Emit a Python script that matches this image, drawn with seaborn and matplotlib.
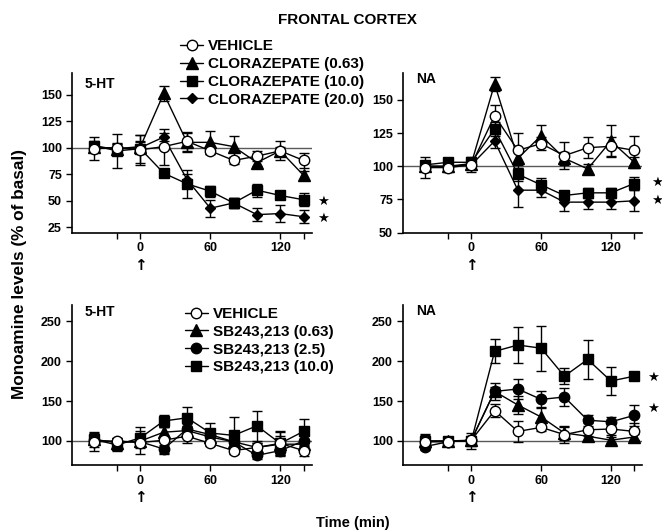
import matplotlib
matplotlib.use("Agg")
import matplotlib.pyplot as plt
import matplotlib.transforms as mtransforms
from matplotlib.lines import Line2D
import seaborn as sns
import numpy as np

# sampling times (min), drug given at t = 0
time = [-40, -20, 0, 20, 40, 60, 80, 100, 120, 140]

# frontal cortex 5-HT, clorazepate study
veh_5ht = [99, 100, 98, 101, 106, 97, 88, 92, 97, 88]
veh_5ht_err = [11, 4, 14, 17, 9, 3, 3, 5, 9, 7]
cz063_5ht = [101, 99, 101, 151, 105, 105, 101, 86, 97, 74]
cz063_5ht_err = [3, 4, 5, 7, 9, 11, 10, 3, 4, 4]
cz10_5ht = [102, 97, 99, 76, 66, 59, 48, 60, 55, 51]
cz10_5ht_err = [4, 16, 13, 3, 13, 5, 5, 6, 3, 6]
cz20_5ht = [101, 99, 100, 110, 70, 43, 48, 37, 38, 35]
cz20_5ht_err = [3, 4, 5, 4, 5, 8, 5, 6, 8, 6]

# frontal cortex NA, clorazepate study
veh_na = [99, 99, 101, 138, 112, 117, 108, 114, 115, 112]
veh_na_err = [8, 3, 5, 8, 13, 5, 10, 8, 7, 11]
cz063_na = [100, 100, 102, 162, 106, 123, 106, 98, 119, 103]
cz063_na_err = [3, 3, 4, 5, 5, 8, 5, 4, 12, 4]
cz10_na = [101, 103, 103, 128, 94, 86, 78, 80, 80, 87]
cz10_na_err = [3, 3, 4, 5, 5, 5, 3, 4, 4, 5]
cz20_na = [100, 100, 101, 119, 82, 82, 73, 73, 73, 74]
cz20_na_err = [3, 3, 3, 5, 13, 5, 7, 5, 5, 8]

# frontal cortex 5-HT, SB243,213 study
sb063_5ht = [102, 98, 100, 111, 113, 105, 99, 92, 96, 96]
sb063_5ht_err = [6, 5, 6, 6, 6, 6, 6, 6, 15, 6]
sb25_5ht = [101, 99, 99, 90, 115, 108, 99, 82, 88, 100]
sb25_5ht_err = [5, 5, 5, 5, 6, 6, 6, 5, 6, 6]
sb10_5ht = [102, 95, 104, 125, 129, 110, 107, 119, 97, 112]
sb10_5ht_err = [9, 8, 13, 8, 14, 12, 23, 19, 15, 15]

# frontal cortex NA, SB243,213 study
sb063_na = [100, 100, 101, 162, 145, 130, 110, 106, 101, 105]
sb063_na_err = [4, 4, 4, 5, 11, 13, 9, 5, 4, 4]
sb25_na = [93, 99, 101, 162, 165, 152, 155, 126, 124, 132]
sb25_na_err = [4, 4, 4, 11, 12, 11, 11, 7, 6, 13]
sb10_na = [100, 100, 100, 212, 220, 216, 181, 202, 175, 181]
sb10_na_err = [9, 5, 10, 15, 23, 28, 10, 24, 17, 5]

cz_labels = ["VEHICLE", "CLORAZEPATE (0.63)", "CLORAZEPATE (10.0)", "CLORAZEPATE (20.0)"]
sb_labels = ["VEHICLE", "SB243,213 (0.63)", "SB243,213 (2.5)", "SB243,213 (10.0)"]

# marker, face colour, size
STY = {
    "veh": ("o", "white", 7.5),
    "tri": ("^", "black", 8),
    "sq": ("s", "black", 7.5),
    "dia": ("D", "black", 5.5),
    "dot": ("o", "black", 7.5),
}

sns.set_theme(style="ticks")
plt.rcParams["font.family"] = ["Liberation Sans", "DejaVu Sans"]
plt.rcParams["font.weight"] = "bold"
plt.rcParams["text.color"] = "black"
plt.rcParams["axes.labelcolor"] = "black"
plt.rcParams["xtick.color"] = "black"
plt.rcParams["ytick.color"] = "black"

fig = plt.figure(figsize=(6.62, 5.31), dpi=100)

rect_tl = [0.1083, 0.5618, 0.3625, 0.3002]
rect_tr = [0.6083, 0.5618, 0.3620, 0.3002]
rect_bl = [0.1083, 0.1243, 0.3625, 0.3013]
rect_br = [0.6083, 0.1243, 0.3620, 0.3013]


def draw_series(ax, vals, err, key, z):
    m, fc, ms = STY[key]
    ax.errorbar(time, vals, yerr=err, fmt="none", ecolor="black",
                elinewidth=1, capsize=3.5, capthick=1, zorder=z - 0.5)
    sns.lineplot(x=time, y=vals, ax=ax, color="black", lw=1,
                 marker=m, markersize=ms, markerfacecolor=fc,
                 markeredgecolor="black", markeredgewidth=1,
                 errorbar=None, legend=False, zorder=z)


def style_panel(ax, ylim, yticks, name, name_y):
    ax.axhline(100, color="0.35", lw=1, zorder=1)
    ax.set_xlim(-59, 147)
    ax.set_ylim(*ylim)
    ax.set_xticks([-20, 0, 60, 120, 140])
    ax.set_xticklabels(["", "0", "60", "120", ""])
    ax.set_yticks(yticks)
    ax.tick_params(labelsize=9, length=4, width=1, pad=3, colors="black")
    for lab in ax.get_xticklabels() + ax.get_yticklabels():
        lab.set_fontweight("bold")
    for s in ["left", "bottom"]:
        ax.spines[s].set_linewidth(1.2)
        ax.spines[s].set_color("black")
    sns.despine(ax=ax)
    ax.set_xlabel("")
    ax.set_ylabel("")
    ax.text(0.055, name_y, name, transform=ax.transAxes, fontsize=10,
            fontweight="bold", va="center")
    ax.text(0, -0.205, "\u2191", transform=ax.get_xaxis_transform(),
            ha="center", va="center", fontsize=11, fontweight="bold",
            family="DejaVu Sans")


def add_stars(ax, xs, ys):
    tr = mtransforms.blended_transform_factory(ax.transAxes, ax.transData)
    for x, y in zip(xs, ys):
        ax.text(x, y, "\u2605", transform=tr, ha="center", va="center",
                fontsize=9.5, family="DejaVu Sans")


# top left
ax = fig.add_axes(rect_tl)
draw_series(ax, cz063_5ht, cz063_5ht_err, "tri", 3)
draw_series(ax, cz10_5ht, cz10_5ht_err, "sq", 4)
draw_series(ax, cz20_5ht, cz20_5ht_err, "dia", 5)
draw_series(ax, veh_5ht, veh_5ht_err, "veh", 6)
style_panel(ax, (20, 170), [25, 50, 75, 100, 125, 150], "5-HT", 0.933)
add_stars(ax, [1.048, 1.048], [49.5, 33])

# top right
ax = fig.add_axes(rect_tr)
draw_series(ax, cz063_na, cz063_na_err, "tri", 3)
draw_series(ax, cz10_na, cz10_na_err, "sq", 4)
draw_series(ax, cz20_na, cz20_na_err, "dia", 5)
draw_series(ax, veh_na, veh_na_err, "veh", 6)
style_panel(ax, (50, 170), [50, 75, 100, 125, 150], "NA", 0.962)
add_stars(ax, [1.06, 1.06], [88, 74])

# bottom left
ax = fig.add_axes(rect_bl)
draw_series(ax, sb063_5ht, sb063_5ht_err, "tri", 3)
draw_series(ax, sb25_5ht, sb25_5ht_err, "dot", 4)
draw_series(ax, sb10_5ht, sb10_5ht_err, "sq", 5)
draw_series(ax, veh_5ht, veh_5ht_err, "veh", 6)
style_panel(ax, (70, 270), [100, 150, 200, 250], "5-HT", 0.958)

# bottom right
ax = fig.add_axes(rect_br)
draw_series(ax, sb063_na, sb063_na_err, "tri", 3)
draw_series(ax, sb25_na, sb25_na_err, "dot", 4)
draw_series(ax, sb10_na, sb10_na_err, "sq", 5)
draw_series(ax, veh_na, veh_na_err, "veh", 6)
style_panel(ax, (70, 270), [100, 150, 200, 250], "NA", 0.964)
add_stars(ax, [1.045, 1.045], [179, 141])


def handles_for(keys):
    out = []
    for k in keys:
        m, fc, ms = STY[k]
        out.append(Line2D([], [], color="black", lw=1, marker=m, markersize=ms,
                          markerfacecolor=fc, markeredgecolor="black"))
    return out


leg_kw = dict(loc="upper left", frameon=False, handlelength=1.5,
              handletextpad=0.3, labelspacing=0.25, borderpad=0, borderaxespad=0,
              prop={"weight": "bold", "size": 11})
fig.legend(handles_for(["veh", "tri", "sq", "dia"]), cz_labels,
           bbox_to_anchor=(0.272, 0.926), **leg_kw)
fig.legend(handles_for(["veh", "tri", "dot", "sq"]), sb_labels,
           bbox_to_anchor=(0.2795, 0.422), **leg_kw)

fig.text(0.525, 0.962, "FRONTAL CORTEX", ha="center", va="center",
         fontsize=11, fontweight="bold")
fig.text(0.029, 0.484, "Monoamine levels (% of basal)", rotation=90,
         ha="center", va="center", fontsize=12.4, fontweight="bold")
fig.text(0.533, 0.015, "Time (min)", ha="center", va="center",
         fontsize=10.5, fontweight="bold")

fig.savefig("out.png", dpi=100)
